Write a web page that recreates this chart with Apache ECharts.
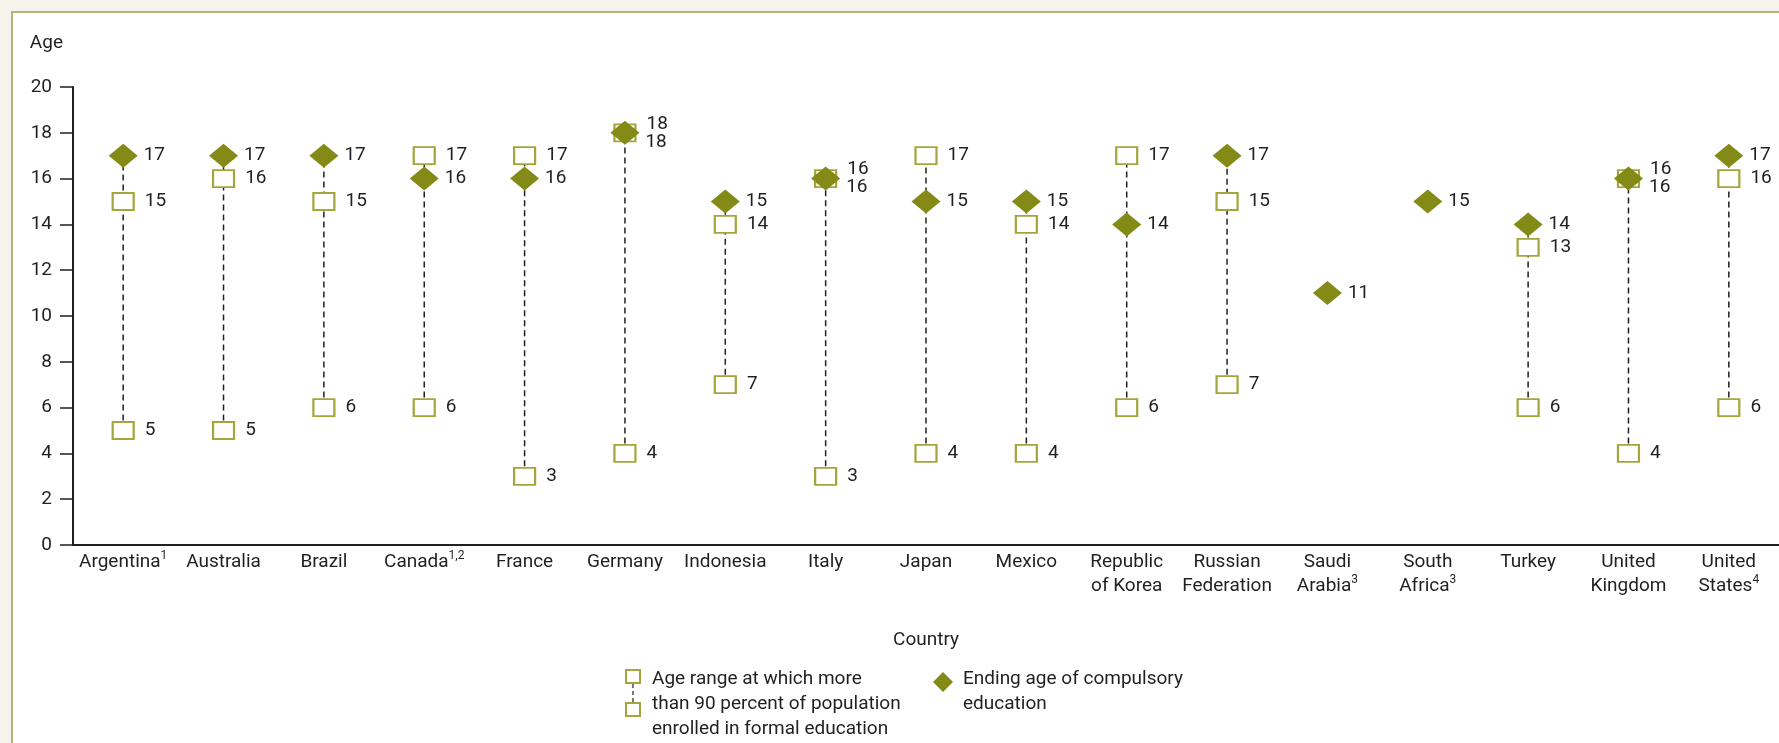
<!DOCTYPE html>
<html>
<head>
<meta charset="utf-8">
<script src="https://cdn.jsdelivr.net/npm/echarts@6/dist/echarts.min.js"></script>
<style>
  html, body { margin: 0; padding: 0; background: #f4f3ec; overflow: hidden; }
  #frame { position: absolute; left: 11px; top: 11px; width: 1800px; height: 760px; background: #fff; border: 2px solid #b2b577; }
  #chart { position: absolute; left: 0; top: 0; width: 1779px; height: 743px; }
</style>
</head>
<body>
<div id="frame"></div>
<div id="chart"></div>
<script>
const countries = ["Argentina", "Australia", "Brazil", "Canada", "France", "Germany", "Indonesia", "Italy", "Japan", "Mexico", "Republic\nof Korea", "Russian\nFederation", "Saudi\nArabia", "South\nAfrica", "Turkey", "United\nKingdom", "United\nStates"];
const notes = ["1", "", "", "1,2", "", "", "", "", "", "", "", "", "3", "3", "", "", "4"];
const rangeLow = [5, 5, 6, 6, 3, 4, 7, 3, 4, 4, 6, 7, null, null, 6, 4, 6];
const rangeHigh = [15, 16, 15, 17, 17, 18, 14, 16, 17, 14, 17, 15, null, null, 13, 16, 16];
const compulsory = [17, 17, 17, 16, 16, 18, 15, 16, 15, 15, 14, 17, 11, 15, 14, 16, 17];

const ink = "#231f20";
const olive = "#838a16";
const oliveLight = "#a3a63a";
const font = "Roboto, sans-serif";

const chart = echarts.init(document.getElementById("chart"));

// labels of equal values get pushed apart
function tieOffset(i, up) {
  if (rangeHigh[i] !== null && rangeHigh[i] === compulsory[i]) {
    return up ? [0, -9] : [0, 9];
  }
  return [0, 0];
}

const lineData = [];
const lowData = [];
const highData = [];
const compData = [];
countries.forEach((c, i) => {
  if (rangeLow[i] !== null) {
    lineData.push([i, Math.min(rangeLow[i], compulsory[i]), Math.max(rangeHigh[i], compulsory[i])]);
    lowData.push({ value: [i, rangeLow[i]] });
    highData.push({ value: [i, rangeHigh[i]], label: { offset: tieOffset(i, true) } });
  }
  compData.push({ value: [i, compulsory[i]], label: { offset: tieOffset(i, false) } });
});

const pointLabel = {
  show: true,
  position: "right",
  color: ink,
  fontSize: 19,
  fontFamily: font,
  formatter: (p) => p.value[1],
};

const squareStyle = {
  color: "#fff",
  borderColor: oliveLight,
  borderWidth: 2,
  opacity: 1,
};

const option = {
  animation: false,
  textStyle: { fontFamily: font },
  grid: { left: 73, top: 87, width: 1714, height: 458 },
  xAxis: {
    type: "category",
    data: countries,
    boundaryGap: true,
    name: "Country",
    nameLocation: "middle",
    nameGap: 86,
    nameTextStyle: { color: ink, fontSize: 19, fontFamily: font },
    axisLine: { lineStyle: { color: ink, width: 2 } },
    axisTick: { show: false },
    axisLabel: {
      color: ink,
      fontSize: 19,
      lineHeight: 24,
      margin: 5,
      interval: 0,
      fontFamily: font,
      formatter: (v, i) => (notes[i] ? v + "{sup|" + notes[i] + "}" : v),
      rich: {
        sup: { fontSize: 12, verticalAlign: "top", lineHeight: 24, color: ink, fontFamily: font },
      },
    },
  },
  yAxis: {
    type: "value",
    min: 0,
    max: 20,
    interval: 2,
    name: "Age",
    nameLocation: "end",
    nameGap: 34,
    nameTextStyle: { color: ink, fontSize: 19, fontFamily: font, align: "right", padding: [0, 10, 0, 0] },
    axisLine: { show: true, lineStyle: { color: ink, width: 2 } },
    axisTick: { show: true, length: 13, lineStyle: { color: ink, width: 1.5 } },
    axisLabel: { color: ink, fontSize: 19, margin: 21, fontFamily: font },
    splitLine: { show: false },
  },
  series: [
    {
      type: "custom",
      data: lineData,
      z: 1,
      renderItem: (params, api) => {
        const p1 = api.coord([api.value(0), api.value(1)]);
        const p2 = api.coord([api.value(0), api.value(2)]);
        return {
          type: "line",
          shape: { x1: p1[0], y1: p1[1], x2: p2[0], y2: p2[1] },
          style: { stroke: ink, lineWidth: 1.5, lineDash: [6, 4] },
        };
      },
    },
    {
      type: "scatter",
      data: lowData,
      symbol: "rect",
      symbolSize: [21, 17],
      itemStyle: squareStyle,
      label: Object.assign({ distance: 10 }, pointLabel),
      z: 2,
    },
    {
      type: "scatter",
      data: highData,
      symbol: "rect",
      symbolSize: [21, 17],
      itemStyle: squareStyle,
      label: Object.assign({ distance: 10 }, pointLabel),
      z: 2,
    },
    {
      type: "scatter",
      data: compData,
      symbol: "diamond",
      symbolSize: [29, 24],
      itemStyle: { color: olive, opacity: 1 },
      label: Object.assign({ distance: 6 }, pointLabel),
      z: 3,
    },
  ],
  graphic: [
    { type: "rect", shape: { x: 626, y: 670, width: 14, height: 13 }, style: { fill: "#fff", stroke: oliveLight, lineWidth: 2 } },
    { type: "line", shape: { x1: 633, y1: 684, x2: 633, y2: 702 }, style: { stroke: ink, lineWidth: 1.2, lineDash: [4, 3] } },
    { type: "rect", shape: { x: 626, y: 703, width: 14, height: 13 }, style: { fill: "#fff", stroke: oliveLight, lineWidth: 2 } },
    {
      type: "text",
      x: 652,
      y: 667,
      style: {
        text: "Age range at which more\nthan 90 percent of population\nenrolled in formal education",
        fill: ink,
        fontSize: 19,
        lineHeight: 25,
        fontFamily: font,
      },
    },
    { type: "polygon", shape: { points: [[943, 672], [953, 682], [943, 692], [933, 682]] }, style: { fill: olive } },
    {
      type: "text",
      x: 963,
      y: 667,
      style: {
        text: "Ending age of compulsory\neducation",
        fill: ink,
        fontSize: 19,
        lineHeight: 25,
        fontFamily: font,
      },
    },
  ],
};

chart.setOption(option);
</script>
</body>
</html>
